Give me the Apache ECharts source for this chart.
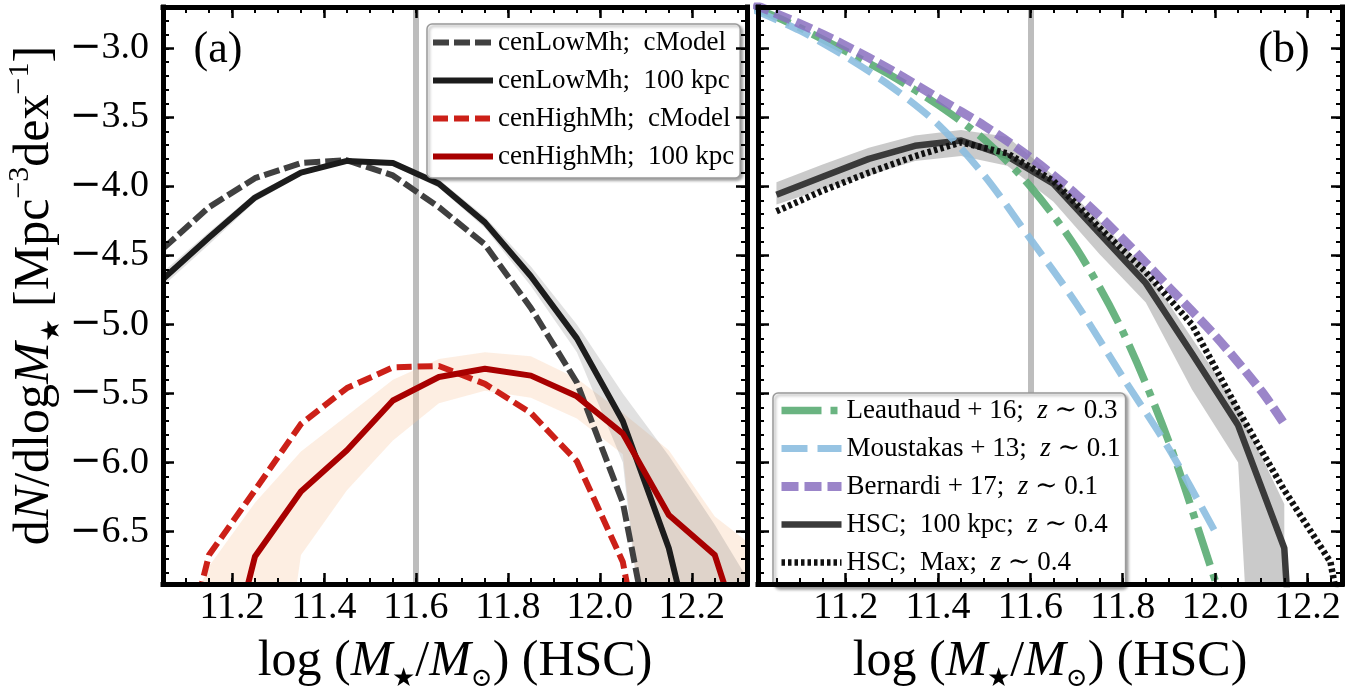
<!DOCTYPE html>
<html>
<head>
<meta charset="utf-8">
<script src="https://cdn.jsdelivr.net/npm/echarts@6/dist/echarts.min.js"></script>
<style>
  html, body { margin: 0; padding: 0; background: #fff; }
  #chart { width: 1359px; height: 697px; }
</style>
</head>
<body>
<div id="chart"></div>
<script>
// ---- panel (a): centrals in low / high halo mass bins ----
const massBinsA = [11.05, 11.15, 11.25, 11.35, 11.45, 11.55, 11.65, 11.75, 11.85, 11.95, 12.05, 12.15, 12.25, 12.35]
const lowMhCModel = [-4.45, -4.15, -3.94, -3.83, -3.81, -3.92, -4.15, -4.42, -4.88, -5.42, -6.29, -8.0, null, null]
const lowMh100kpc = [-4.67, -4.37, -4.08, -3.90, -3.815, -3.83, -3.98, -4.26, -4.65, -5.10, -5.70, -6.62, -8.0, null]
const lowMh100kpcUp = [-4.62, -4.33, -4.05, -3.88, -3.80, -3.81, -3.95, -4.22, -4.58, -5.00, -5.50, -5.95, -6.45, -7.0]
const lowMh100kpcLo = [-4.72, -4.42, -4.11, -3.92, -3.83, -3.85, -4.01, -4.30, -4.72, -5.20, -6.00, -9.0, -9.0, -9.0]
const highMhCModel = [-8.0, -6.67, -6.20, -5.72, -5.46, -5.31, -5.30, -5.43, -5.64, -5.99, -6.72, -8.5, null, null]
const highMh100kpc = [null, -8.0, -6.68, -6.21, -5.91, -5.55, -5.38, -5.32, -5.37, -5.52, -5.79, -6.38, -6.67, -7.7]
const highMh100kpcUp = [-7.5, -6.75, -6.29, -5.92, -5.66, -5.40, -5.25, -5.20, -5.23, -5.39, -5.64, -5.91, -6.39, -6.65]
const highMh100kpcLo = [-9.0, -9.0, -9.0, -6.67, -6.20, -5.84, -5.57, -5.48, -5.53, -5.68, -5.94, -9.0, -9.0, -9.0]

// ---- panel (b): HSC vs. literature ----
const massBinsB = [11.05, 11.15, 11.25, 11.35, 11.45, 11.55, 11.65, 11.75, 11.85, 11.95, 12.05, 12.15, 12.25, 12.35]
const hsc100kpc = [-4.06, -3.93, -3.80, -3.705, -3.667, -3.78, -3.98, -4.34, -4.70, -5.21, -5.73, -6.62, -12.0, null]
const hsc100kpcUp = [-3.97, -3.84, -3.72, -3.63, -3.59, -3.64, -3.92, -4.25, -4.60, -5.10, -5.60, -6.30, null, null]
const hsc100kpcLo = [-4.13, -4.02, -3.92, -3.815, -3.78, -3.85, -4.11, -4.49, -4.84, -5.47, -6.00, -12.0, null, null]
const hscMax = [-4.18, -4.03, -3.90, -3.78, -3.68, -3.76, -3.96, -4.30, -4.62, -5.00, -5.62, -6.20, -6.72, -8.5]

const litMass = [11.0, 11.1, 11.2, 11.3, 11.4, 11.5, 11.6, 11.7, 11.8, 11.9, 12.0, 12.1, 12.15]
const leauthaud16 = [-2.70, -2.85, -3.02, -3.20, -3.41, -3.66, -4.00, -4.45, -5.05, -5.85, -6.85, -7.8, null]
const moustakas13 = [-2.72, -2.87, -3.06, -3.28, -3.55, -3.92, -4.38, -4.85, -5.38, -5.90, -6.50, null, null]
const bernardi17 = [-2.68, -2.82, -2.98, -3.16, -3.36, -3.56, -3.79, -4.06, -4.38, -4.73, -5.08, -5.48, -5.72]

// ---- axes ----
const xMajorTicks = [11.2, 11.4, 11.6, 11.8, 12.0, 12.2]
const yMajorTicks = [-6.5, -6.0, -5.5, -5.0, -4.5, -4.0, -3.5, -3.0]
const cutMass = 11.6
const xRanges = [[11.05, 12.32], [11.01, 12.275]]
const yRange = [-6.88, -2.70]

const FONT = '"Liberation Serif", "DejaVu Serif", serif'
const chart = echarts.init(document.getElementById('chart'))

const xMinorTicks = []
for (let i = 220; i <= 247; i++) xMinorTicks.push(+(i * 0.05).toFixed(2))
const yMinorTicks = []
for (let i = -68; i <= -27; i++) yMinorTicks.push(+(i * 0.1).toFixed(1))

const mathRich = {
  i: { fontFamily: FONT, fontStyle: 'italic', fontSize: 50, lineHeight: 60 },
  s: { fontFamily: FONT, fontSize: 26, lineHeight: 26, verticalAlign: 'bottom' },
  p: { fontFamily: FONT, fontSize: 30, lineHeight: 30, verticalAlign: 'top' },
}
const xName = 'log (' + '{i|M}{s|★}/{i|M}{s|⊙}) (HSC)'
const yName = 'd{i|N}/dlog{i|M}{s|★} [Mpc{p|−3}dex{p|−1}]'

// long TeX-like minus sign
const fmtY = v => (v < 0 ? '{m|\u2212}' : '') + Math.abs(v).toFixed(1)

const xAxes = []
const yAxes = []
;[0, 1].forEach(g => {
  const [xmin, xmax] = xRanges[g]
  const minorX = xMinorTicks.filter(v => v > xmin && v < xmax)
  ;['bottom', 'top'].forEach(pos => {
    xAxes.push({
      gridIndex: g, type: 'value', min: xmin, max: xmax, position: pos, z: 10,
      axisLine: { show: true, onZero: false, lineStyle: { color: '#000', width: 5, cap: 'square' } },
      axisTick: { show: true, inside: true, length: 11, customValues: xMajorTicks, lineStyle: { color: '#000', width: 2.5 } },
      axisLabel: pos === 'bottom'
        ? { show: true, customValues: xMajorTicks, formatter: v => v.toFixed(1), fontFamily: FONT, fontSize: 38, color: '#000', margin: 5 }
        : { show: false },
      splitLine: { show: false },
      name: pos === 'bottom' ? xName : '',
      nameLocation: 'middle',
      nameGap: 32,
      nameTextStyle: { fontFamily: FONT, fontSize: 50, lineHeight: 60, color: '#000', rich: mathRich },
    })
    xAxes.push({
      gridIndex: g, type: 'value', min: xmin, max: xmax, position: pos, z: 10,
      axisLine: { show: false },
      axisTick: { show: true, inside: true, length: 6, customValues: minorX, lineStyle: { color: '#000', width: 2 } },
      axisLabel: { show: false },
      splitLine: { show: false },
    })
  })
  ;['left', 'right'].forEach(pos => {
    const withLabels = g === 0 && pos === 'left'
    yAxes.push({
      gridIndex: g, type: 'value', min: yRange[0], max: yRange[1], position: pos, z: 10,
      axisLine: { show: true, onZero: false, lineStyle: { color: '#000', width: 5, cap: 'square' } },
      axisTick: { show: true, inside: true, length: 11, customValues: yMajorTicks, lineStyle: { color: '#000', width: 2.5 } },
      axisLabel: withLabels
        ? {
            show: true, customValues: yMajorTicks, formatter: fmtY, fontFamily: FONT, fontSize: 38, color: '#000', margin: 14,
            rich: { m: { fontFamily: '"DejaVu Sans", sans-serif', fontSize: 38, color: '#000' } },
          }
        : { show: false },
      splitLine: { show: false },
      name: withLabels ? yName : '',
      nameLocation: 'middle',
      nameGap: 98,
      nameTextStyle: { fontFamily: FONT, fontSize: 50, lineHeight: 60, color: '#000', rich: mathRich },
    })
    yAxes.push({
      gridIndex: g, type: 'value', min: yRange[0], max: yRange[1], position: pos, z: 10,
      axisLine: { show: false },
      axisTick: { show: true, inside: true, length: 6, customValues: yMinorTicks, lineStyle: { color: '#000', width: 2 } },
      axisLabel: { show: false },
      splitLine: { show: false },
    })
  })
})

const pts = (xs, ys) => xs.map((x, i) => [x, ys[i]]).filter(p => p[1] !== null)

function curve(name, g, xs, ys, color, width, dash, z, extra) {
  return Object.assign({
    name, type: 'line', xAxisIndex: g * 4, yAxisIndex: g * 4,
    data: pts(xs, ys), symbol: 'none', showSymbol: false, z, silent: true,
    lineStyle: { color, width, type: dash || 'solid', cap: 'butt', join: 'round' },
    itemStyle: { color, opacity: 0 },
  }, extra || {})
}

// shaded uncertainty band: one polygon through the axis scales, clipped to the grid
function band(g, xs, lo, hi, color, z) {
  const rows = xs.map((x, i) => [x, lo[i], hi[i]]).filter(r => r[1] !== null && r[2] !== null)
  return {
    type: 'custom', xAxisIndex: g * 4, yAxisIndex: g * 4, z, silent: true, clip: true,
    data: rows,
    encode: { x: 0, y: [1, 2] },
    renderItem: (params, api) => {
      if (params.dataIndex !== 0) return null
      const top = []
      const bottom = []
      for (let k = 0; k < rows.length; k++) {
        top.push(api.coord([api.value(0, k), api.value(2, k)]))
        bottom.push(api.coord([api.value(0, k), api.value(1, k)]))
      }
      return {
        type: 'polygon',
        shape: { points: top.concat(bottom.reverse()) },
        style: { fill: color },
      }
    },
  }
}

function cutLine(g) {
  return {
    name: 'cut' + g, type: 'line', xAxisIndex: g * 4, yAxisIndex: g * 4, data: [], silent: true,
    markLine: {
      z: 1, symbol: 'none', silent: true, animation: false,
      label: { show: false },
      lineStyle: { color: '#bdbdbd', width: 6, type: 'solid' },
      data: [{ xAxis: cutMass }],
    },
  }
}

const namesA = ['cenLowMh;  cModel', 'cenLowMh;  100 kpc', 'cenHighMh;  cModel', 'cenHighMh;  100 kpc']
const namesB = ['Leauthaud + 16;  z ∼ 0.3', 'Moustakas + 13;  z ∼ 0.1', 'Bernardi + 17;  z ∼ 0.1',
  'HSC;  100 kpc;  z ∼ 0.4', 'HSC;  Max;  z ∼ 0.4']

const series = [
  band(0, massBinsA, highMh100kpcLo, highMh100kpcUp, 'rgba(250,200,160,0.30)', 1),
  band(0, massBinsA, lowMh100kpcLo, lowMh100kpcUp, 'rgba(120,120,120,0.22)', 1),
  cutLine(0),
  curve(namesA[0], 0, massBinsA, lowMhCModel, '#404040', 6, [16, 5], 3),
  curve(namesA[1], 0, massBinsA, lowMh100kpc, '#1c1c1c', 6, 'solid', 3),
  curve(namesA[2], 0, massBinsA, highMhCModel, '#cc2018', 6, [15, 6], 4),
  curve(namesA[3], 0, massBinsA, highMh100kpc, '#a80000', 6, 'solid', 4),

  band(1, massBinsB, hsc100kpcLo, hsc100kpcUp, 'rgba(150,150,150,0.5)', 1),
  cutLine(1),
  curve(namesB[3], 1, massBinsB, hsc100kpc, '#3a3a3a', 6.5, 'solid', 3),
  curve(namesB[0], 1, litMass, leauthaud16, 'rgba(90,172,115,0.9)', 7.5, [40, 9, 7, 9], 4, { smooth: 0.3 }),
  curve(namesB[1], 1, litMass, moustakas13, 'rgba(140,190,224,0.9)', 7, [26, 10], 5, { smooth: 0.3 }),
  curve(namesB[2], 1, litMass, bernardi17, 'rgba(138,112,192,0.85)', 9, [17, 6], 6, { smooth: 0.3 }),
  curve(namesB[4], 1, massBinsB, hscMax, '#111111', 6.5, [3.5, 3], 7),
]

const legendBase = {
  orient: 'vertical', itemWidth: 60, itemHeight: 14, itemGap: 11,
  backgroundColor: '#fff', borderColor: '#9a9a9a', borderWidth: 1.5, borderRadius: 5,
  shadowBlur: 3, shadowOffsetX: 2, shadowOffsetY: 2, shadowColor: 'rgba(0,0,0,0.35)',
  selectedMode: false,
  itemStyle: { opacity: 0 },
  lineStyle: { width: 'inherit' },
  textStyle: {
    fontFamily: FONT, fontSize: 27, lineHeight: 27, color: '#000',
    rich: { i: { fontFamily: FONT, fontStyle: 'italic', fontSize: 27, lineHeight: 27 } },
  },
  formatter: name => name.replace(' z ', ' {i|z} '),
}

chart.setOption({
  animation: false,
  backgroundColor: '#fff',
  grid: [
    { left: 163, top: 7, width: 584, height: 591 },
    { left: 758, top: 7, width: 584, height: 591 },
  ],
  xAxis: xAxes,
  yAxis: yAxes,
  legend: [
    Object.assign({}, legendBase, { data: namesA, left: 427, top: 24, padding: [5, 6, 8, 3] }),
    Object.assign({}, legendBase, { data: namesB, left: 773, top: 393, padding: [4, 5, 11, 4] }),
  ],
  graphic: [
    { type: 'text', x: 218, y: 50, z: 20, style: { text: '(a)', fontFamily: FONT, fontSize: 44, fill: '#000', align: 'center', verticalAlign: 'middle' } },
    { type: 'text', x: 1284, y: 50, z: 20, style: { text: '(b)', fontFamily: FONT, fontSize: 44, fill: '#000', align: 'center', verticalAlign: 'middle' } },
  ],
  series,
})
</script>
</body>
</html>
